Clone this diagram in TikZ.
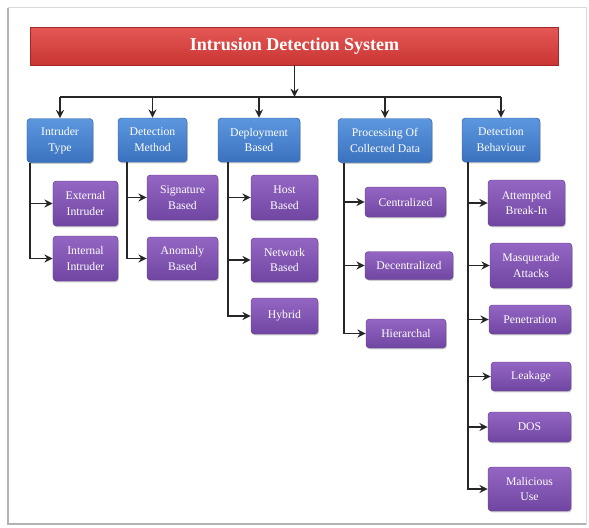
\documentclass[tikz,border=0pt]{standalone}
\usepackage{fontspec}
\setmainfont{Liberation Serif}
\usetikzlibrary{arrows.meta,positioning,shadows}
\definecolor{idsred}{HTML}{C93533}
\definecolor{idsredtop}{HTML}{E45855}
\definecolor{idsblue}{HTML}{3B72C0}
\definecolor{idsbluetop}{HTML}{5C97DE}
\definecolor{idsbluerim}{HTML}{2E5E9F}
\definecolor{idspurple}{HTML}{7046A2}
\definecolor{idspurpletop}{HTML}{9466C3}
\definecolor{idspurplerim}{HTML}{5E3A88}
\tikzset{
  >={Stealth[length=2.5mm,width=2.4mm]},
  wh/.style 2 args={minimum width=#1cm,minimum height=#2cm},
  boxtext/.style={text=white,align=center,inner sep=1pt,
    font=\fontsize{10}{13.5}\selectfont},
  % titel
  idsbar/.style={rectangle,top color=idsredtop,bottom color=idsred,
    draw=idsred!80!black,line width=0.5pt,text=white,
    font=\fontsize{15.4}{18}\selectfont\bfseries,
    drop shadow={shadow xshift=0.8pt,shadow yshift=-1.2pt,opacity=0.45}},
  % kategorier
  cat/.style={boxtext,rectangle,rounded corners=3pt,
    top color=idsbluetop,bottom color=idsblue,draw=idsbluerim,line width=0.4pt,
    drop shadow={shadow xshift=0.8pt,shadow yshift=-1.2pt,opacity=0.4}},
  % underkategorier
  sub/.style={boxtext,rectangle,rounded corners=3pt,
    top color=idspurpletop,bottom color=idspurple,draw=idspurplerim,line width=0.4pt,
    drop shadow={shadow xshift=0.8pt,shadow yshift=-1.2pt,opacity=0.4}},
  ln/.style={draw=black!85,line width=1.5pt},
  arr/.style={->,draw=black!85,line width=1.5pt},
}
\begin{document}
\begin{tikzpicture}[x=0.03cm,y=-0.03cm]
  \useasboundingbox (0,0) rectangle (589,527);
  % ram
  \draw[black!15,line width=0.8pt] (8,7) rectangle (586,524);
  \draw[black!30,line width=2pt] (8,8) -- (8,524) -- (586,524);
  % noder
  \node[idsbar,wh={15.84}{1.14}] (title) at (294.5,46) {Intrusion Detection System};
  \node[cat,wh={1.98}{1.32}] (itype) at (60,140.5) {Intruder\\Type};
  \node[cat,wh={2.07}{1.32}] (imeth) at (152.5,140) {Detection\\Method};
  \node[cat,wh={2.46}{1.32}] (idepl) at (259,140) {Deployment\\Based};
  \node[cat,wh={2.82}{1.32}] (iproc) at (385,140.5) {Processing Of\\Collected Data};
  \node[cat,wh={2.34}{1.32}] (ibeh) at (501,140) {Detection\\Behaviour};
  \node[sub,wh={1.95}{1.35}] (ext) at (85.5,203.5) {External\\Intruder};
  \node[sub,wh={1.95}{1.35}] (int) at (85.5,258.5) {Internal\\Intruder};
  \node[sub,wh={2.13}{1.35}] (sig) at (182.5,197.5) {Signature\\Based};
  \node[sub,wh={2.13}{1.29}] (ano) at (182.5,258.5) {Anomaly\\Based};
  \node[sub,wh={2.01}{1.35}] (host) at (284.5,197.5) {Host\\Based};
  \node[sub,wh={2.01}{1.32}] (net) at (284.5,260) {Network\\Based};
  \node[sub,wh={2.01}{1.08}] (hyb) at (284.5,316) {Hybrid};
  \node[sub,wh={2.43}{0.90}] (cen) at (405.5,202) {Centralized};
  \node[sub,wh={2.64}{0.84}] (dec) at (409,265.5) {Decentralized};
  \node[sub,wh={2.40}{0.87}] (hier) at (406,333.5) {Hierarchal};
  \node[sub,wh={2.31}{1.38}] (att) at (526.5,203) {Attempted\\Break-In};
  \node[sub,wh={2.46}{1.35}] (masq) at (531,265.5) {Masquerade\\Attacks};
  \node[sub,wh={2.46}{0.87}] (pen) at (530,319.5) {Penetration};
  \node[sub,wh={2.40}{0.87}] (leak) at (531,376.5) {Leakage};
  \node[sub,wh={2.49}{0.90}] (dos) at (529.5,427) {DOS};
  \node[sub,wh={2.49}{1.32}] (mal) at (529.5,489) {Malicious\\Use};
  % kopplingar
  \coordinate (bus) at (294.5,97);
  \draw[arr] (title) -- (bus);
  \draw[ln] (bus -| itype) -- (bus -| ibeh);
  \foreach \n in {itype,imeth,idepl,iproc,ibeh}
    \draw[arr] (bus -| \n) -- (\n);
  \coordinate (ttype) at ([xshift=0.09cm]itype.south west);
  \coordinate (tmeth) at ([xshift=0.27cm]imeth.south west);
  \coordinate (tdepl) at ([xshift=0.3cm]idepl.south west);
  \coordinate (tproc) at ([xshift=0.18cm]iproc.south west);
  \coordinate (tbeh) at ([xshift=0.18cm]ibeh.south west);
  \draw[arr] (ttype) |- (int); \draw[arr] (ttype |- ext) -- (ext);
  \draw[arr] (tmeth) |- (ano); \draw[arr] (tmeth |- sig) -- (sig);
  \draw[arr] (tdepl) |- (hyb);
  \foreach \c in {host,net} \draw[arr] (tdepl |- \c) -- (\c);
  \draw[arr] (tproc) |- (hier);
  \foreach \c in {cen,dec} \draw[arr] (tproc |- \c) -- (\c);
  \draw[arr] (tbeh) |- (mal);
  \foreach \c in {att,masq,pen,leak,dos} \draw[arr] (tbeh |- \c) -- (\c);
\end{tikzpicture}
\end{document}
